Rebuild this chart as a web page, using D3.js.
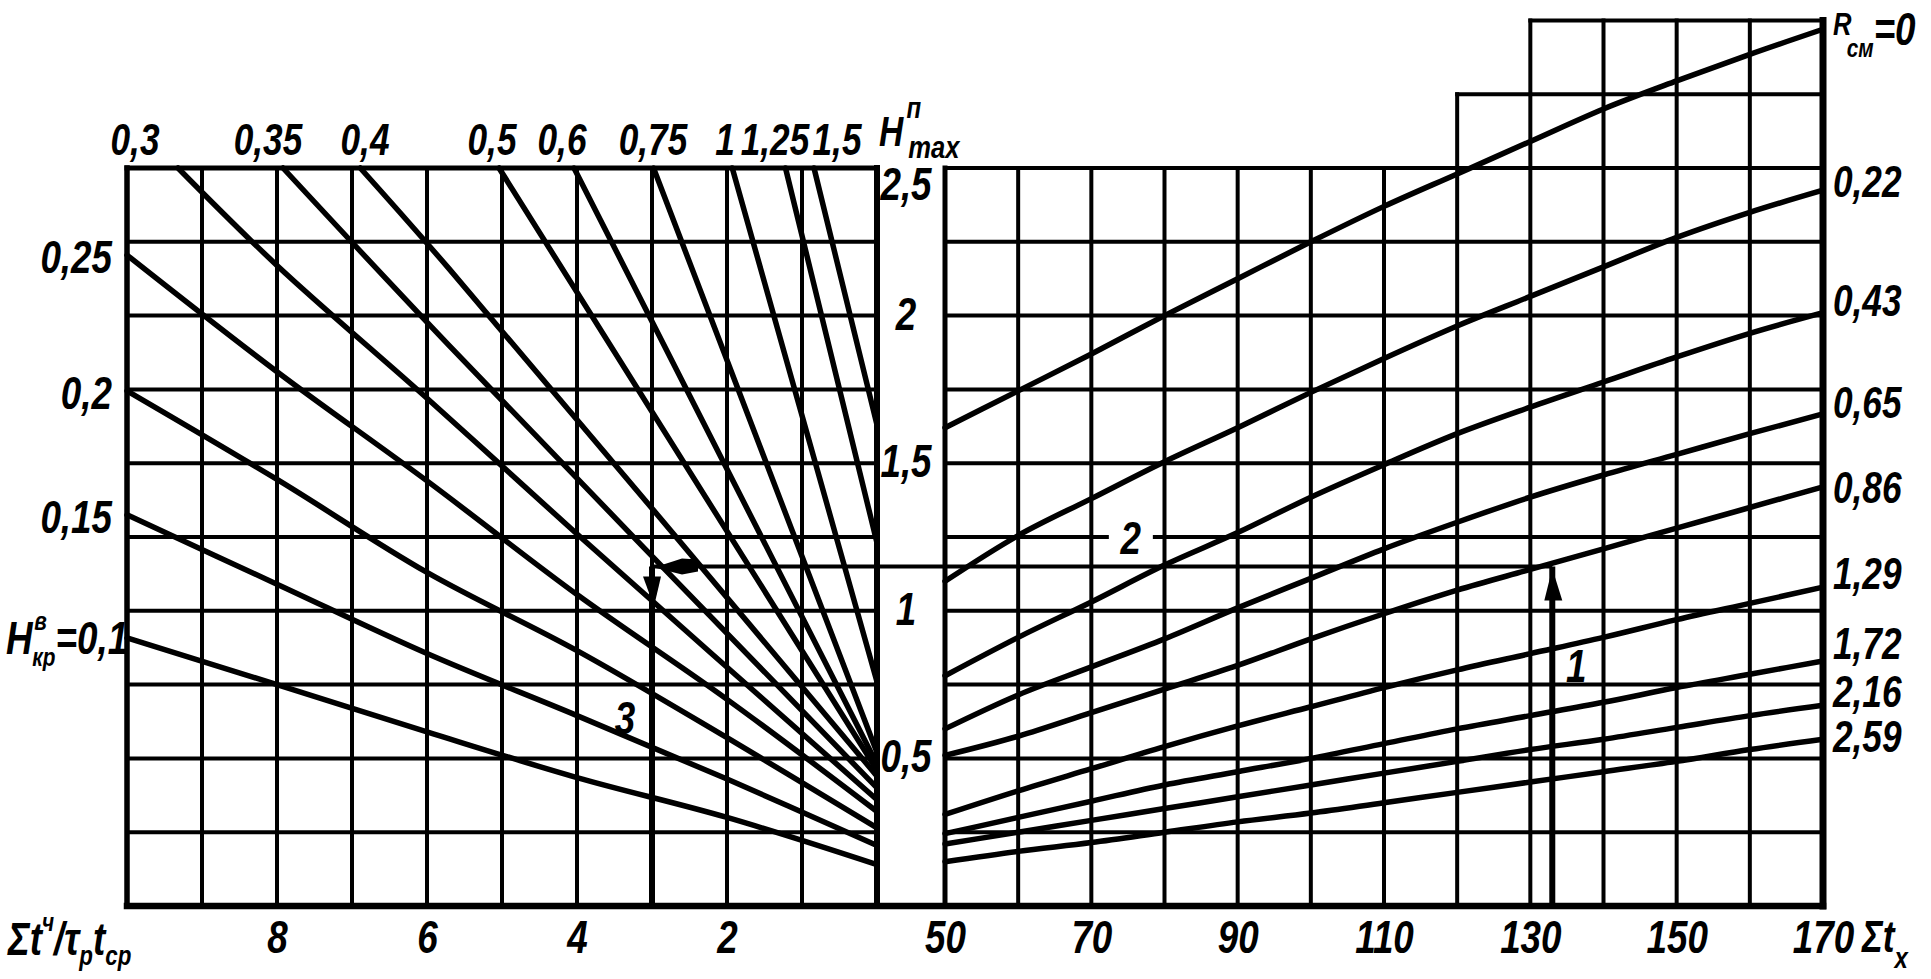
<!DOCTYPE html>
<html>
<head>
<meta charset="utf-8">
<script src="https://cdn.jsdelivr.net/npm/d3@7"></script>
<style>
  body { margin: 0; background: #fff; }
  svg text {
    font-family: "Liberation Sans", "DejaVu Sans", sans-serif;
    font-style: italic;
    font-weight: bold;
    fill: #000;
  }
</style>
</head>
<body>
<svg id="chart" width="1931" height="979"></svg>
<script>
// ---- valores ----
var leftTicks = [8, 6, 4, 2];                 // Σt/τt (escala invertida)
var rightTicks = [50, 70, 90, 110, 130, 150, 170]; // Σt_x
var midTicks = [0.5, 1, 1.5, 2, 2.5];         // H max

// painel direito: H para cada R_cm em Σt = 50..170
var sumTx = [50, 60, 70, 80, 90, 100, 110, 120, 130, 140, 150, 160, 170];
var rcm000 = [1.62, 1.745, 1.87, 2.0, 2.125, 2.25, 2.37, 2.48, 2.59, 2.70, 2.795, 2.885, 2.97];
var rcm022 = [1.10, 1.255, 1.38, 1.505, 1.62, 1.74, 1.855, 1.965, 2.065, 2.165, 2.265, 2.35, 2.425];
var rcm043 = [0.78, 0.91, 1.03, 1.155, 1.265, 1.385, 1.495, 1.60, 1.69, 1.775, 1.86, 1.94, 2.01];
var rcm065 = [0.60, 0.715, 0.81, 0.905, 1.01, 1.11, 1.21, 1.30, 1.385, 1.46, 1.53, 1.60, 1.667];
var rcm086 = [0.51, 0.575, 0.655, 0.735, 0.815, 0.905, 0.99, 1.07, 1.14, 1.21, 1.28, 1.35, 1.42];
var rcm129 = [0.31, 0.39, 0.465, 0.54, 0.61, 0.675, 0.74, 0.80, 0.855, 0.91, 0.97, 1.025, 1.08];
var rcm172 = [0.245, 0.30, 0.355, 0.41, 0.455, 0.50, 0.55, 0.60, 0.645, 0.69, 0.74, 0.785, 0.83];
var rcm216 = [0.21, 0.25, 0.29, 0.33, 0.37, 0.41, 0.45, 0.49, 0.53, 0.565, 0.605, 0.645, 0.68];
var rcm259 = [0.15, 0.185, 0.215, 0.25, 0.285, 0.315, 0.35, 0.385, 0.42, 0.455, 0.49, 0.53, 0.565];
var rcmNames = ["0", "0,22", "0,43", "0,65", "0,86", "1,29", "1,72", "2,16", "2,59"];

// painel esquerdo: pontos [Σt/τt, H] de cada curva H_kr
var hkr010 = [[10, 0.908], [8, 0.75], [6, 0.59], [4, 0.435], [2, 0.30], [0, 0.14]];
var hkr015 = [[10, 1.325], [8, 1.09], [6, 0.855], [4, 0.645], [2, 0.43], [0, 0.205]];
var hkr020 = [[10, 1.745], [8, 1.445], [6, 1.13], [4, 0.865], [2, 0.57], [0, 0.265]];
var hkr025 = [[10, 2.205], [8, 1.81], [6, 1.44], [4, 1.055], [2, 0.70], [0, 0.32]];
var hkr030 = [[9.32, 2.5], [8, 2.17], [6, 1.72], [4, 1.26], [0, 0.36]];
var hkr035 = [[7.92, 2.5], [5.71, 1.90], [0, 0.40]];
var hkr040 = [[6.89, 2.5], [5.71, 2.16], [0, 0.44]];
var hkr050 = [[5.04, 2.5], [0, 0.46]];
var hkr060 = [[4.04, 2.5], [0, 0.48]];
var hkr075 = [[2.98, 2.5], [0, 0.52]];
var hkr100 = [[1.93, 2.5], [0, 0.76]];
var hkr125 = [[1.22, 2.5], [0, 1.23]];
var hkr150 = [[0.84, 2.5], [0, 1.63]];
var hkrNames = ["0,1", "0,15", "0,2", "0,25", "0,3", "0,35", "0,4", "0,5", "0,6", "0,75", "1", "1,25", "1,5"];

// exemplo de leitura (setas 1-2-3)
var keySum = 133;
var keyH = 1.15;
var keyRatio = 3;

var rcmSeries = [rcm000, rcm022, rcm043, rcm065, rcm086, rcm129, rcm172, rcm216, rcm259];
var hkrSeries = [hkr010, hkr015, hkr020, hkr025, hkr030, hkr035, hkr040, hkr050, hkr060, hkr075, hkr100, hkr125, hkr150];

function fmt(d) { return String(d).replace(".", ","); }

var SX = 0.8; // letra estreita, como no desenho a mao
var svg = d3.select("#chart");

// escalas
var xL = d3.scaleLinear().domain([10, 0]).range([127, 877]);
var xR = d3.scaleLinear().domain([50, 170]).range([945, 1823]);
var y = d3.scaleLinear().domain([0, 2.5]).range([906, 168]);

var grid = svg.append("g").attr("stroke", "#000").attr("stroke-width", 4).attr("stroke-linecap", "square");

// grade esquerda
d3.range(0, 11).forEach(function(v) {
    grid.append("line").attr("x1", xL(v)).attr("x2", xL(v)).attr("y1", y(0)).attr("y2", y(2.5));
});
d3.range(0, 11).forEach(function(i) {
    var h = i * 0.25;
    grid.append("line").attr("x1", xL(10)).attr("x2", xL(0)).attr("y1", y(h)).attr("y2", y(h));
});

// grade direita (com degraus no alto)
function topOf(v) { return v >= 130 ? 3.0 : (v >= 120 ? 2.75 : 2.5); }
sumTx.forEach(function(v) {
    grid.append("line").attr("x1", xR(v)).attr("x2", xR(v)).attr("y1", y(0)).attr("y2", y(topOf(v)));
});
d3.range(0, 11).forEach(function(i) {
    var h = i * 0.25;
    grid.append("line").attr("x1", xR(50)).attr("x2", xR(170)).attr("y1", y(h)).attr("y2", y(h));
});
grid.append("line").attr("x1", xR(120)).attr("x2", xR(170)).attr("y1", y(2.75)).attr("y2", y(2.75));
grid.append("line").attr("x1", xR(130)).attr("x2", xR(170)).attr("y1", y(3.0)).attr("y2", y(3.0));

// bordas mais grossas
var border = svg.append("g").attr("stroke", "#000").attr("stroke-linecap", "square");
border.append("line").attr("x1", xL(10)).attr("x2", xR(170)).attr("y1", y(0)).attr("y2", y(0)).attr("stroke-width", 6.5);
border.append("line").attr("x1", xL(10)).attr("x2", xL(10)).attr("y1", y(0)).attr("y2", y(2.5)).attr("stroke-width", 5.5);
border.append("line").attr("x1", xL(0)).attr("x2", xL(0)).attr("y1", y(0)).attr("y2", y(2.5)).attr("stroke-width", 6);
border.append("line").attr("x1", xR(170)).attr("x2", xR(170)).attr("y1", y(0)).attr("y2", y(3.0)).attr("stroke-width", 7);
border.append("line").attr("x1", xR(50)).attr("x2", xR(50)).attr("y1", y(0)).attr("y2", y(2.5)).attr("stroke-width", 5);
border.append("line").attr("x1", xL(10)).attr("x2", xL(0)).attr("y1", y(2.5)).attr("y2", y(2.5)).attr("stroke-width", 5);

// curvas
var lineR = d3.line().x(function(d) { return xR(d[0]); }).y(function(d) { return y(d[1]); }).curve(d3.curveMonotoneX);
var lineL = d3.line().x(function(d) { return xL(d[0]); }).y(function(d) { return y(d[1]); }).curve(d3.curveCatmullRom.alpha(0.5));

var curves = svg.append("g").attr("fill", "none").attr("stroke", "#000").attr("stroke-width", 5.5).attr("stroke-linecap", "round");

rcmSeries.forEach(function(s) {
    curves.append("path").attr("d", lineR(sumTx.map(function(t, i) { return [t, s[i]]; })));
});
hkrSeries.forEach(function(s) {
    curves.append("path").attr("d", lineL(s));
});

// linha do exemplo
var keyG = svg.append("g").attr("stroke", "#000").attr("fill", "#000");
keyG.append("line").attr("x1", xR(keySum)).attr("x2", xR(keySum)).attr("y1", y(0)).attr("y2", y(keyH)).attr("stroke-width", 6);
keyG.append("line").attr("x1", xL(keyRatio)).attr("x2", xR(keySum)).attr("y1", y(keyH)).attr("y2", y(keyH)).attr("stroke-width", 4);
keyG.append("line").attr("x1", xL(keyRatio)).attr("x2", xL(keyRatio)).attr("y1", y(keyH)).attr("y2", y(0)).attr("stroke-width", 6);
// seta para cima (1)
var ax = xR(keySum), ay = y(keyH);
keyG.append("path").attr("stroke", "none")
    .attr("d", "M" + ax + "," + (ay + 2) + " L" + (ax + 10) + "," + (ay + 34) + " L" + (ax - 8) + "," + (ay + 34) + " Z");
// seta para a esquerda (2)
var bx = xL(keyRatio);
keyG.append("path").attr("stroke", "none")
    .attr("d", "M" + (bx + 2) + "," + (ay + 1) + " L" + (bx + 30) + "," + (ay - 8) + " L" + (bx + 46) + "," + (ay - 7) + " L" + (bx + 46) + "," + (ay + 5) + " L" + (bx + 30) + "," + (ay + 8) + " Z");
// seta para baixo (3)
keyG.append("path").attr("stroke", "none")
    .attr("d", "M" + (bx - 9) + "," + (ay + 10) + " L" + (bx + 9) + "," + (ay + 10) + " L" + (bx + 2) + "," + (ay + 40) + " Z");

// ---- textos ----
var labels = svg.append("g");
function txt(x, yy, size, anchor) {
    return labels.append("text")
        .attr("transform", "translate(" + x + "," + yy + ") scale(" + SX + ",1)")
        .attr("font-size", size)
        .attr("text-anchor", anchor || "start");
}

// eixo inferior esquerdo
svg.append("g")
    .attr("transform", "translate(0," + y(0) + ")")
    .call(d3.axisBottom(xL).tickValues(leftTicks).tickSize(0).tickPadding(14).tickFormat(fmt))
    .call(function(g) { g.select(".domain").remove(); })
    .attr("font-size", 46).attr("font-family", null)
    .selectAll("text").attr("transform", "scale(" + SX + ",1)");

// eixo inferior direito
svg.append("g")
    .attr("transform", "translate(0," + y(0) + ")")
    .call(d3.axisBottom(xR).tickValues(rightTicks).tickSize(0).tickPadding(14).tickFormat(fmt))
    .call(function(g) { g.select(".domain").remove(); })
    .attr("font-size", 46).attr("font-family", null)
    .selectAll("text").attr("transform", "scale(" + SX + ",1)");

// titulo eixo esquerdo
var t1 = txt(8, 955, 46);
t1.append("tspan").text("Σt");
t1.append("tspan").attr("dy", -24).attr("font-size", 26).text("ч");
t1.append("tspan").attr("dy", 24).text("/τ");
t1.append("tspan").attr("dy", 10).attr("font-size", 28).text("р");
t1.append("tspan").attr("dy", -10).text("t");
t1.append("tspan").attr("dy", 10).attr("font-size", 28).text("ср");

// titulo eixo direito
var t2 = txt(1862, 952, 44);
t2.append("tspan").text("Σt");
t2.append("tspan").attr("dy", 16).attr("font-size", 30).text("х");

// escala central H max
midTicks.forEach(function(v) {
    txt(906, Math.max(y(v) + 14, 200), 46, "middle").text(fmt(v));
});
var t3 = txt(879, 146, 42);
t3.append("tspan").text("H");
t3.append("tspan").attr("dy", -28).attr("dx", 4).attr("font-size", 30).text("п");
t3.append("tspan").attr("dy", 40).attr("dx", -16).attr("font-size", 32).text("max");

// rotulos das curvas H_kr
var topX = [135, 268, 365, 492, 562, 653, 725, 775, 837];
hkrSeries.forEach(function(s, i) {
    var p = s[0];
    if (p[0] >= 10) {
        if (i === 0) {
            var tt = txt(6, y(p[1]) + 16, 46, "start");
            tt.append("tspan").text("H");
            tt.append("tspan").attr("dy", -24).attr("dx", 2).attr("font-size", 26).text("в");
            tt.append("tspan").attr("dy", 36).attr("dx", -18).attr("font-size", 26).text("кр");
            tt.append("tspan").attr("dy", -12).text("=" + hkrNames[i]);
        } else {
            txt(112, y(p[1]) + 18, 46, "end").text(hkrNames[i]);
        }
    } else {
        txt(topX[i - 4], 155, 44, "middle").text(hkrNames[i]);
    }
});

// rotulos das curvas R_cm
var rcmDy = [16, 7, 3, 4, 16, 2, -2, 2, 13];
rcmSeries.forEach(function(s, i) {
    var yy = y(s[s.length - 1]);
    if (i === 0) {
        var tr = txt(1833, yy + rcmDy[i], 46, "start");
        tr.append("tspan").attr("font-size", 32).attr("dy", -10).text("R");
        tr.append("tspan").attr("font-size", 26).attr("dy", 22).attr("dx", -6).text("см");
        tr.append("tspan").attr("dy", -12).text("=" + rcmNames[i]);
    } else {
        txt(1833, yy + rcmDy[i], 44, "start").text(rcmNames[i]);
    }
});

// numeros do exemplo
txt(xR(keySum) + 24, 682, 46, "middle").text("1");
labels.append("rect").attr("x", xR(75.4) - 22).attr("y", y(1.25) - 8).attr("width", 44).attr("height", 16).attr("fill", "#fff");
txt(xR(75.4), 554, 46, "middle").text("2");
txt(xL(keyRatio) - 27, 734, 46, "middle").text("3");
</script>
</body>
</html>
